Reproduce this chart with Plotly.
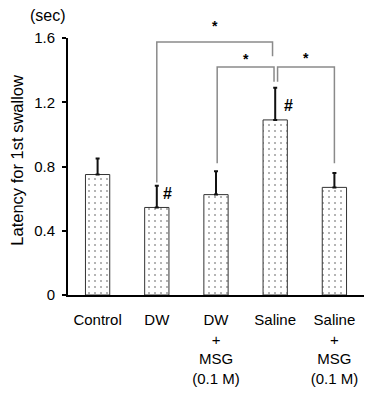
import plotly.graph_objects as go

# ---- data ----
categories = ["Control", "DW", "DW<br>+<br>MSG<br>(0.1 M)", "Saline", "Saline<br>+<br>MSG<br>(0.1 M)"]
means = [0.75, 0.545, 0.625, 1.09, 0.67]
errors = [0.10, 0.135, 0.145, 0.20, 0.09]
ytick_vals = [0, 0.4, 0.8, 1.2, 1.6]
ytick_text = ["0", "0.4", "0.8", "1.2", "1.6"]
hash_marks = [1, 3]          # groups marked with '#'
# significance brackets: left group, right group, bracket level, left leg bottom, right leg bottom
comp_left = [1, 2, 3]
comp_right = [3, 3, 4]
comp_level = [1.575, 1.42, 1.42]
comp_left_bottom = [0.70, 0.82, 1.327]
comp_right_bottom = [1.486, 1.327, 0.82]

# ---- styles ----
FONT = "Liberation Sans, Arial, sans-serif"
leg_dx_left = [0.0, 0.02, 0.04]
leg_dx_right = [-0.045, -0.02, 0.0]
star_shift = [19, 11, 12]
hash_xshift = [11, 13]
BR_COLOR = "#8a8a8a"

x_idx = list(range(len(categories)))

fig = go.Figure()
fig.add_trace(go.Bar(
    x=x_idx, y=means, width=0.41,
    marker=dict(
        color="white",
        line=dict(color="#333333", width=1),
        pattern=dict(shape=".", size=6, solidity=0.1, fgcolor="#444444", bgcolor="white", fillmode="overlay"),
    ),
    error_y=dict(type="data", array=errors, arrayminus=[0] * len(errors), symmetric=False,
                 color="#111111", thickness=2, width=2),
    showlegend=False,
))

shapes = []
annotations = []
for i in range(len(comp_left)):
    xl = comp_left[i] + leg_dx_left[i]
    xr = comp_right[i] + leg_dx_right[i]
    lvl = comp_level[i]
    path = f"M {xl},{comp_left_bottom[i]} L {xl},{lvl} L {xr},{lvl} L {xr},{comp_right_bottom[i]}"
    shapes.append(dict(type="path", path=path, xref="x", yref="y",
                       line=dict(color=BR_COLOR, width=1.5)))
    annotations.append(dict(x=(xl + xr) / 2, y=lvl, xref="x", yref="y", text="<b>*</b>",
                            showarrow=False, yanchor="middle", yshift=star_shift[i] - 3,
                            font=dict(family=FONT, size=14, color="black")))

for k, g in enumerate(hash_marks):
    annotations.append(dict(x=g, y=means[g], xref="x", yref="y", text="<b>#</b>",
                            showarrow=False, xanchor="center", yanchor="middle",
                            xshift=hash_xshift[k], yshift=14,
                            font=dict(family=FONT, size=16, color="black")))

annotations.append(dict(x=0, y=1, xref="paper", yref="paper", text="(sec)",
                        showarrow=False, xanchor="right", yanchor="middle",
                        xshift=0, yshift=23,
                        font=dict(family=FONT, size=16, color="black")))
annotations.append(dict(x=-0.172, y=0.523, xref="paper", yref="paper", text="Latency for 1st swallow",
                        textangle=-90, showarrow=False, xanchor="center", yanchor="middle",
                        font=dict(family=FONT, size=16.5, color="black")))

fig.update_layout(
    width=370, height=393,
    margin=dict(l=68, r=6, t=38, b=98, autoexpand=False),
    plot_bgcolor="white", paper_bgcolor="white",
    shapes=shapes, annotations=annotations,
    xaxis=dict(range=[-0.5, 4.5], tickvals=x_idx, ticktext=categories,
               showline=True, linecolor="black", linewidth=2, ticks="",
               showgrid=False, zeroline=False, automargin=False, ticklabelstandoff=10,
               tickfont=dict(family=FONT, size=15, color="black")),
    yaxis=dict(range=[0, 1.6], tickvals=ytick_vals, ticktext=ytick_text,
               showline=True, linecolor="black", linewidth=2,
               ticks="outside", ticklen=4, tickwidth=2, tickcolor="black",
               showgrid=False, zeroline=False, automargin=False, ticklabelstandoff=4,
               tickfont=dict(family=FONT, size=15, color="black")),
)

fig.write_html("out.html", config={"displayModeBar": False},
               post_script="document.body.style.margin='0';document.body.style.overflow='hidden';")
